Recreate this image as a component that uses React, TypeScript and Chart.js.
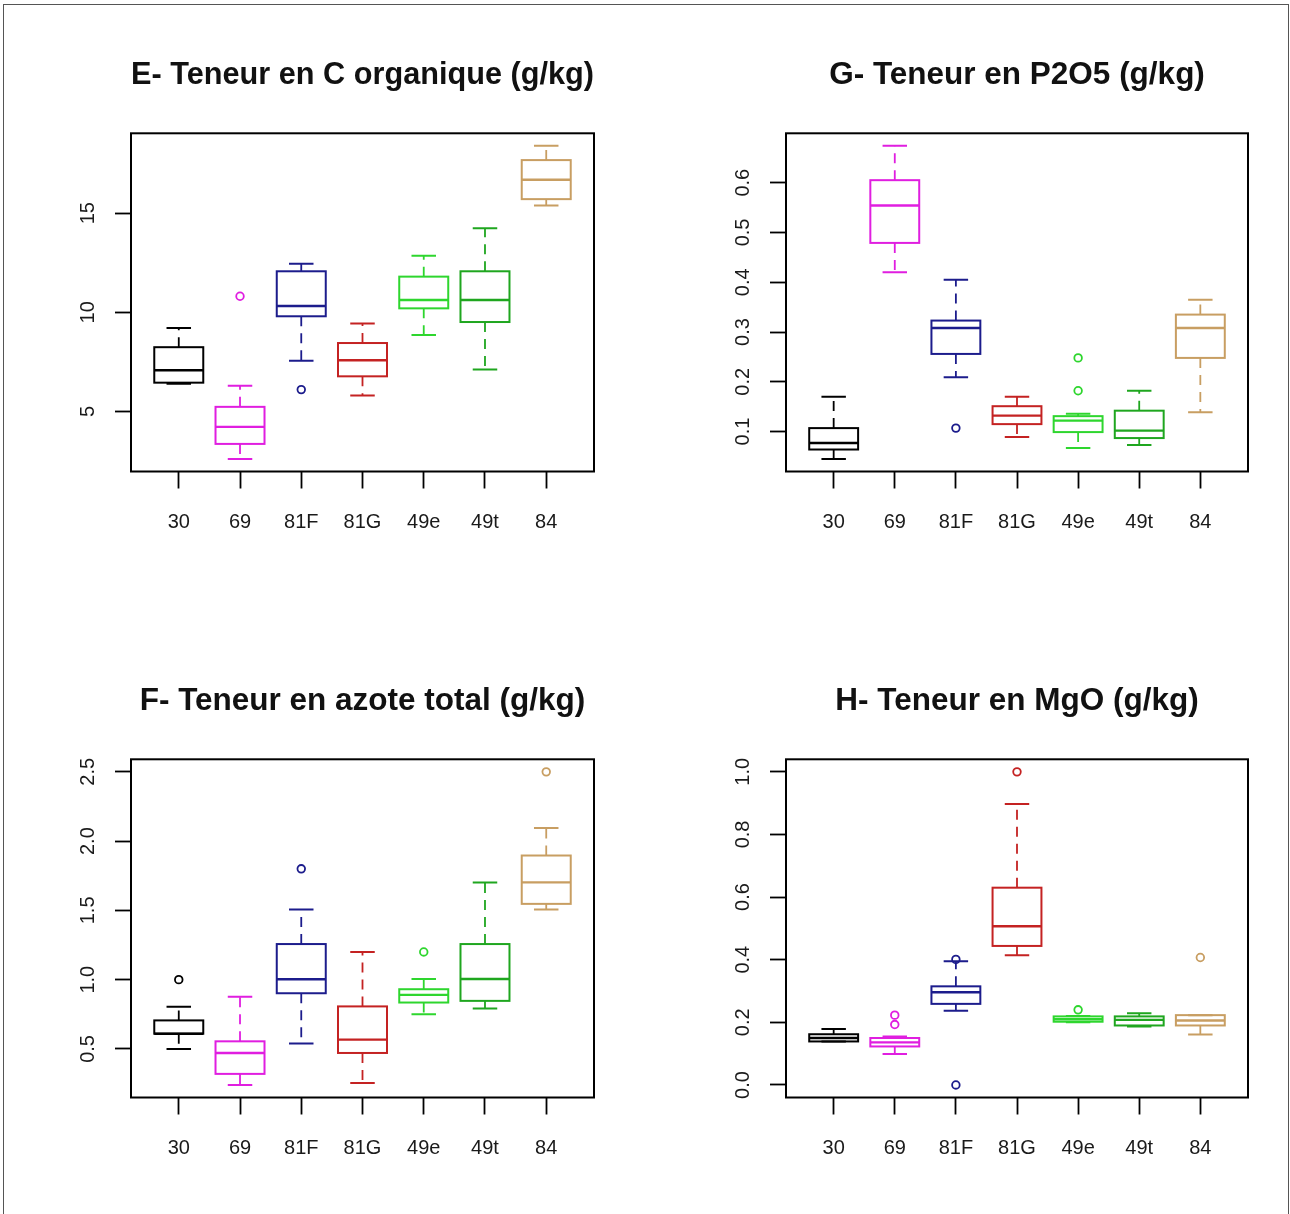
import React, { useEffect, useRef } from "react";
import { Chart, registerables } from "chart.js";
Chart.register(...registerables);

// ---------- data ----------
const categories = ["30", "69", "81F", "81G", "49e", "49t", "84"];
const groupColors = ["#000000", "#E01EE0", "#1C1C8C", "#C42222", "#2ED62E", "#1FA61F", "#C89E62"];

// E- Teneur en C organique (g/kg)
const E_title = "E- Teneur en C organique (g/kg)";
const E_low = [6.39, 2.6, 7.56, 5.8, 8.86, 7.11, 15.39];
const E_q1 = [6.45, 3.36, 9.8, 6.77, 10.2, 9.51, 15.71];
const E_med = [7.08, 4.22, 10.32, 7.58, 10.62, 10.62, 16.69];
const E_q3 = [8.24, 5.23, 12.07, 8.45, 11.8, 12.07, 17.68];
const E_high = [9.21, 6.3, 12.45, 9.43, 12.86, 14.24, 18.4];
const E_outGroup = [2, 3];
const E_outValue = [10.81, 6.1];
const E_yTicks = [5, 10, 15];

// G- Teneur en P2O5 (g/kg)
const G_title = "G- Teneur en P2O5 (g/kg)";
const G_low = [0.045, 0.42, 0.209, 0.089, 0.067, 0.073, 0.139];
const G_q1 = [0.064, 0.479, 0.256, 0.115, 0.099, 0.087, 0.248];
const G_med = [0.077, 0.554, 0.308, 0.132, 0.122, 0.102, 0.308];
const G_q3 = [0.107, 0.605, 0.323, 0.151, 0.131, 0.142, 0.335];
const G_high = [0.17, 0.674, 0.405, 0.17, 0.136, 0.182, 0.365];
const G_outGroup = [3, 5, 5];
const G_outValue = [0.107, 0.248, 0.182];
const G_yTicks = [0.1, 0.2, 0.3, 0.4, 0.5, 0.6];

// F- Teneur en azote total (g/kg)
const F_title = "F- Teneur en azote total (g/kg)";
const F_low = [0.5, 0.24, 0.54, 0.255, 0.751, 0.792, 1.506];
const F_q1 = [0.61, 0.32, 0.902, 0.471, 0.835, 0.847, 1.547];
const F_med = [0.61, 0.471, 1.003, 0.567, 0.89, 1.005, 1.702];
const F_q3 = [0.706, 0.555, 1.257, 0.807, 0.931, 1.257, 1.896];
const F_high = [0.804, 0.876, 1.506, 1.2, 1.005, 1.702, 2.095];
const F_outGroup = [1, 3, 5, 7];
const F_outValue = [1.0, 1.8, 1.2, 2.5];
const F_yTicks = [0.5, 1.0, 1.5, 2.0, 2.5];

// H- Teneur en MgO (g/kg)
const H_title = "H- Teneur en MgO (g/kg)";
const H_low = [0.139, 0.099, 0.237, 0.414, 0.2, 0.187, 0.161];
const H_q1 = [0.139, 0.123, 0.259, 0.444, 0.202, 0.19, 0.19];
const H_med = [0.15, 0.136, 0.296, 0.507, 0.21, 0.208, 0.206];
const H_q3 = [0.162, 0.15, 0.315, 0.63, 0.219, 0.219, 0.223];
const H_high = [0.179, 0.155, 0.395, 0.897, 0.22, 0.229, 0.223];
const H_outGroup = [2, 2, 3, 3, 4, 5, 7];
const H_outValue = [0.223, 0.193, 0.401, 0.0, 1.0, 0.24, 0.407];
const H_yTicks = [0.0, 0.2, 0.4, 0.6, 0.8, 1.0];

// ---------- drawing ----------
const FONT = "'Liberation Sans', Arial, Helvetica, sans-serif";
const TICK_SIZE = 20;
const TITLE_SIZE = 31.5;

type PanelData = {
  title: string;
  low: number[];
  q1: number[];
  med: number[];
  q3: number[];
  high: number[];
  outGroup: number[];
  outValue: number[];
  yTicks: number[];
  decimals: number;
};

type Geo = {
  left: number;
  top: number;
  width: number;
  height: number;
  plotLeft: number;
  plotRight: number;
  plotTop: number;
  plotBottom: number;
};

function BoxPanel({ p, g }: { p: PanelData; g: Geo }) {
  const ref = useRef<HTMLCanvasElement>(null);
  useEffect(() => {
    const canvas = ref.current!;
    const all = [...p.low, ...p.high, ...p.outValue];
    const lo = Math.min(...all);
    const hi = Math.max(...all);
    const ext = (hi - lo) * 0.04;
    const fmt = (v: number) => v.toFixed(p.decimals);
    const mctx = document.createElement("canvas").getContext("2d")!;
    mctx.font = `${TICK_SIZE}px ${FONT}`;
    const widest = Math.max(...p.yTicks.map((v) => mctx.measureText(fmt(v)).width));
    const yTickLen = 16;
    const yPad = 43 - yTickLen - widest / 2;
    const xTickLen = 17;
    const xPad = 522.5 - 471.5 - xTickLen - (TICK_SIZE * 1.2) / 2;
    const titleLH = TITLE_SIZE * 1.2;
    const titleTop = 75.5 - titleLH / 2;

    const boxPlugin = {
      id: "rboxes",
      beforeDatasetsDraw(chart: any) {
        const { ctx, scales } = chart;
        const xs = scales.x;
        const ys = scales.y;
        const py = (v: number) => ys.getPixelForValue(v);
        ctx.save();
        for (let i = 0; i < categories.length; i++) {
          const cx = xs.getPixelForValue(i + 1);
          const half = xs.getPixelForValue(i + 1.4) - cx;
          const cap = half / 2;
          const col = groupColors[i];
          ctx.strokeStyle = col;
          // whiskers (dashed)
          ctx.lineWidth = 1.8;
          ctx.setLineDash([10, 7]);
          ctx.beginPath();
          ctx.moveTo(cx, py(p.q3[i]));
          ctx.lineTo(cx, py(p.high[i]));
          ctx.moveTo(cx, py(p.q1[i]));
          ctx.lineTo(cx, py(p.low[i]));
          ctx.stroke();
          ctx.setLineDash([]);
          // staples
          ctx.lineWidth = 2;
          ctx.beginPath();
          ctx.moveTo(cx - cap, py(p.high[i]));
          ctx.lineTo(cx + cap, py(p.high[i]));
          ctx.moveTo(cx - cap, py(p.low[i]));
          ctx.lineTo(cx + cap, py(p.low[i]));
          ctx.stroke();
          // box
          ctx.lineWidth = 2;
          const yt = py(p.q3[i]);
          const yb = py(p.q1[i]);
          ctx.strokeRect(cx - half, yt, 2 * half, yb - yt);
          // median
          ctx.lineWidth = 2.4;
          ctx.beginPath();
          ctx.moveTo(cx - half, py(p.med[i]));
          ctx.lineTo(cx + half, py(p.med[i]));
          ctx.stroke();
        }
        ctx.restore();
      },
      afterDraw(chart: any) {
        const { ctx, chartArea } = chart;
        ctx.save();
        ctx.strokeStyle = "#000";
        ctx.lineWidth = 2;
        ctx.strokeRect(chartArea.left, chartArea.top, chartArea.right - chartArea.left, chartArea.bottom - chartArea.top);
        ctx.restore();
      },
    };

    const chart = new Chart(canvas, {
      type: "scatter",
      data: {
        datasets: [
          {
            data: p.outGroup.map((gi, k) => ({ x: gi, y: p.outValue[k] })),
            pointRadius: 3.8,
            pointHoverRadius: 3.8,
            pointBorderWidth: 1.8,
            pointBorderColor: p.outGroup.map((gi) => groupColors[gi - 1]),
            pointBackgroundColor: "rgba(0,0,0,0)",
            showLine: false,
          },
        ],
      },
      options: {
        responsive: false,
        maintainAspectRatio: false,
        animation: false,
        events: [],
        layout: { padding: { left: 0, top: 0, right: g.width - g.plotRight, bottom: 0 } },
        plugins: {
          legend: { display: false },
          tooltip: { enabled: false },
          title: {
            display: true,
            text: p.title,
            fullSize: false,
            color: "#111",
            font: { family: FONT, size: TITLE_SIZE, weight: "bold", lineHeight: 1.2 },
            padding: { top: titleTop, bottom: g.plotTop - titleTop - titleLH },
          },
        },
        scales: {
          x: {
            type: "linear",
            position: "bottom",
            min: 0.22,
            max: 7.78,
            afterBuildTicks: (s: any) => {
              s.ticks = categories.map((_, i) => ({ value: i + 1 }));
            },
            afterFit: (s: any) => {
              s.height = g.height - g.plotBottom;
            },
            ticks: {
              autoSkip: false,
              maxRotation: 0,
              minRotation: 0,
              padding: xPad,
              color: "#1a1a1a",
              font: { family: FONT, size: TICK_SIZE },
              callback: (v: any) => categories[Math.round(Number(v)) - 1] ?? "",
            },
            grid: {
              display: true,
              drawOnChartArea: false,
              drawTicks: true,
              tickLength: xTickLen,
              tickWidth: 1.8,
              tickColor: "#000",
              color: "#000",
            },
            border: { display: false },
          },
          y: {
            type: "linear",
            position: "left",
            min: lo - ext,
            max: hi + ext,
            afterBuildTicks: (s: any) => {
              s.ticks = p.yTicks.map((v) => ({ value: v }));
            },
            afterFit: (s: any) => {
              s.width = g.plotLeft;
            },
            ticks: {
              minRotation: 90,
              maxRotation: 90,
              crossAlign: "center",
              padding: yPad,
              color: "#1a1a1a",
              font: { family: FONT, size: TICK_SIZE },
              callback: (v: any) => fmt(Number(v)),
            },
            grid: {
              display: true,
              drawOnChartArea: false,
              drawTicks: true,
              tickLength: yTickLen,
              tickWidth: 1.8,
              tickColor: "#000",
              color: "#000",
            },
            border: { display: false },
          },
        },
      } as any,
      plugins: [boxPlugin],
    });
    return () => chart.destroy();
  }, []);
  return (
    <canvas
      ref={ref}
      width={g.width}
      height={g.height}
      style={{ position: "absolute", left: g.left, top: g.top, width: g.width, height: g.height }}
    />
  );
}

const panelE: PanelData = { title: E_title, low: E_low, q1: E_q1, med: E_med, q3: E_q3, high: E_high, outGroup: E_outGroup, outValue: E_outValue, yTicks: E_yTicks, decimals: 0 };
const panelG: PanelData = { title: G_title, low: G_low, q1: G_q1, med: G_med, q3: G_q3, high: G_high, outGroup: G_outGroup, outValue: G_outValue, yTicks: G_yTicks, decimals: 1 };
const panelF: PanelData = { title: F_title, low: F_low, q1: F_q1, med: F_med, q3: F_q3, high: F_high, outGroup: F_outGroup, outValue: F_outValue, yTicks: F_yTicks, decimals: 1 };
const panelH: PanelData = { title: H_title, low: H_low, q1: H_q1, med: H_med, q3: H_q3, high: H_high, outGroup: H_outGroup, outValue: H_outValue, yTicks: H_yTicks, decimals: 1 };

export default function App() {
  const common = { plotLeft: 131, plotTop: 133.3, plotBottom: 471.5 };
  return (
    <div style={{ position: "absolute", left: 0, top: 0, width: 1290, height: 1214, background: "#fff", overflow: "hidden" }}>
      <div
        style={{
          position: "absolute",
          left: 3,
          top: 4,
          width: 1284,
          height: 1215,
          borderTop: "1.5px solid #555",
          borderLeft: "1.5px solid #555",
          borderRight: "1.5px solid #555",
        }}
      />
      <BoxPanel p={panelE} g={{ left: 0, top: 0, width: 655, height: 626, plotRight: 594, ...common }} />
      <BoxPanel p={panelG} g={{ left: 655, top: 0, width: 635, height: 626, plotRight: 593, ...common }} />
      <BoxPanel p={panelF} g={{ left: 0, top: 626, width: 655, height: 588, plotRight: 594, ...common }} />
      <BoxPanel p={panelH} g={{ left: 655, top: 626, width: 635, height: 588, plotRight: 593, ...common }} />
    </div>
  );
}
